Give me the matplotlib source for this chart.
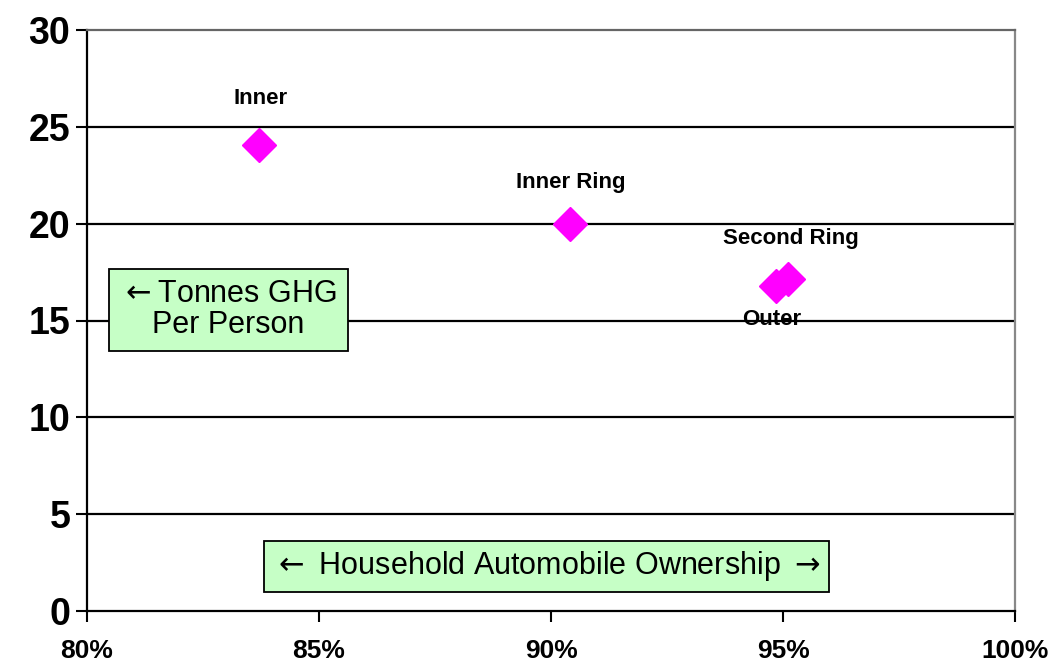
import matplotlib.pyplot as plt
from matplotlib.ticker import FuncFormatter

# Data
names = ['Inner', 'Inner Ring', 'Second Ring', 'Outer']
ownership = [83.7, 90.4, 95.1, 94.85]
ghg = [24.05, 20.0, 17.15, 16.8]
label_offsets = [(1, 34), (1, 29.5), (2, 29), (-3, -24.5)]

yticks = [0, 5, 10, 15, 20, 25, 30]
xticks = [80, 85, 90, 95, 100]

plt.rcParams['font.family'] = ['Liberation Sans', 'DejaVu Sans']

fig = plt.figure(figsize=(10.53, 6.66), dpi=100)
ax = fig.add_axes([87 / 1053, 55 / 666, 928 / 1053, 581 / 666])

ax.set_xlim(80, 100)
ax.set_ylim(0, 30)

# horizontal gridlines
for y in yticks[1:-1]:
    ax.axhline(y, color='black', lw=1.6, zorder=1)

ax.plot(ownership, ghg, linestyle='none', marker='D', ms=17,
        color='#FF00FF', zorder=3)

for n, x, y, off in zip(names, ownership, ghg, label_offsets):
    ax.annotate(n, (x, y), xytext=off, textcoords='offset points',
                ha='center', va='center', fontsize=16, fontweight='bold',
                zorder=4)

# text boxes
box = dict(boxstyle='square,pad=0.35', facecolor='#C6FFC6', edgecolor='black', lw=1.3)
ax.text(83.05, 15.55, '$\\leftarrow$Tonnes GHG\nPer Person', ha='center', va='center',
        fontsize=22, linespacing=1.05, bbox=box, zorder=5)
ax.text(89.9, 2.3, '$\\leftarrow$ Household Automobile Ownership $\\rightarrow$',
        ha='center', va='center', fontsize=22,
        bbox=dict(box, boxstyle='square,pad=0.28'), zorder=5)

ax.set_yticks(yticks)
ax.set_xticks(xticks)
ax.xaxis.set_major_formatter(FuncFormatter(lambda v, p: f'{v:.0f}%'))
for lab in ax.get_yticklabels():
    lab.set_fontsize(27)
    lab.set_fontweight('bold')
for lab in ax.get_xticklabels():
    lab.set_fontsize(19)
    lab.set_fontweight('bold')
ax.tick_params(axis='y', direction='out', length=8, width=1.5, pad=4)
ax.tick_params(axis='x', direction='out', length=8, width=1.5, pad=12)

ax.spines['left'].set_linewidth(1.6)
ax.spines['bottom'].set_linewidth(1.6)
ax.spines['top'].set_color('#666666')
ax.spines['top'].set_linewidth(1.6)
ax.spines['right'].set_color('#888888')
ax.spines['right'].set_linewidth(1.6)

fig.savefig('out.png', dpi=100)
